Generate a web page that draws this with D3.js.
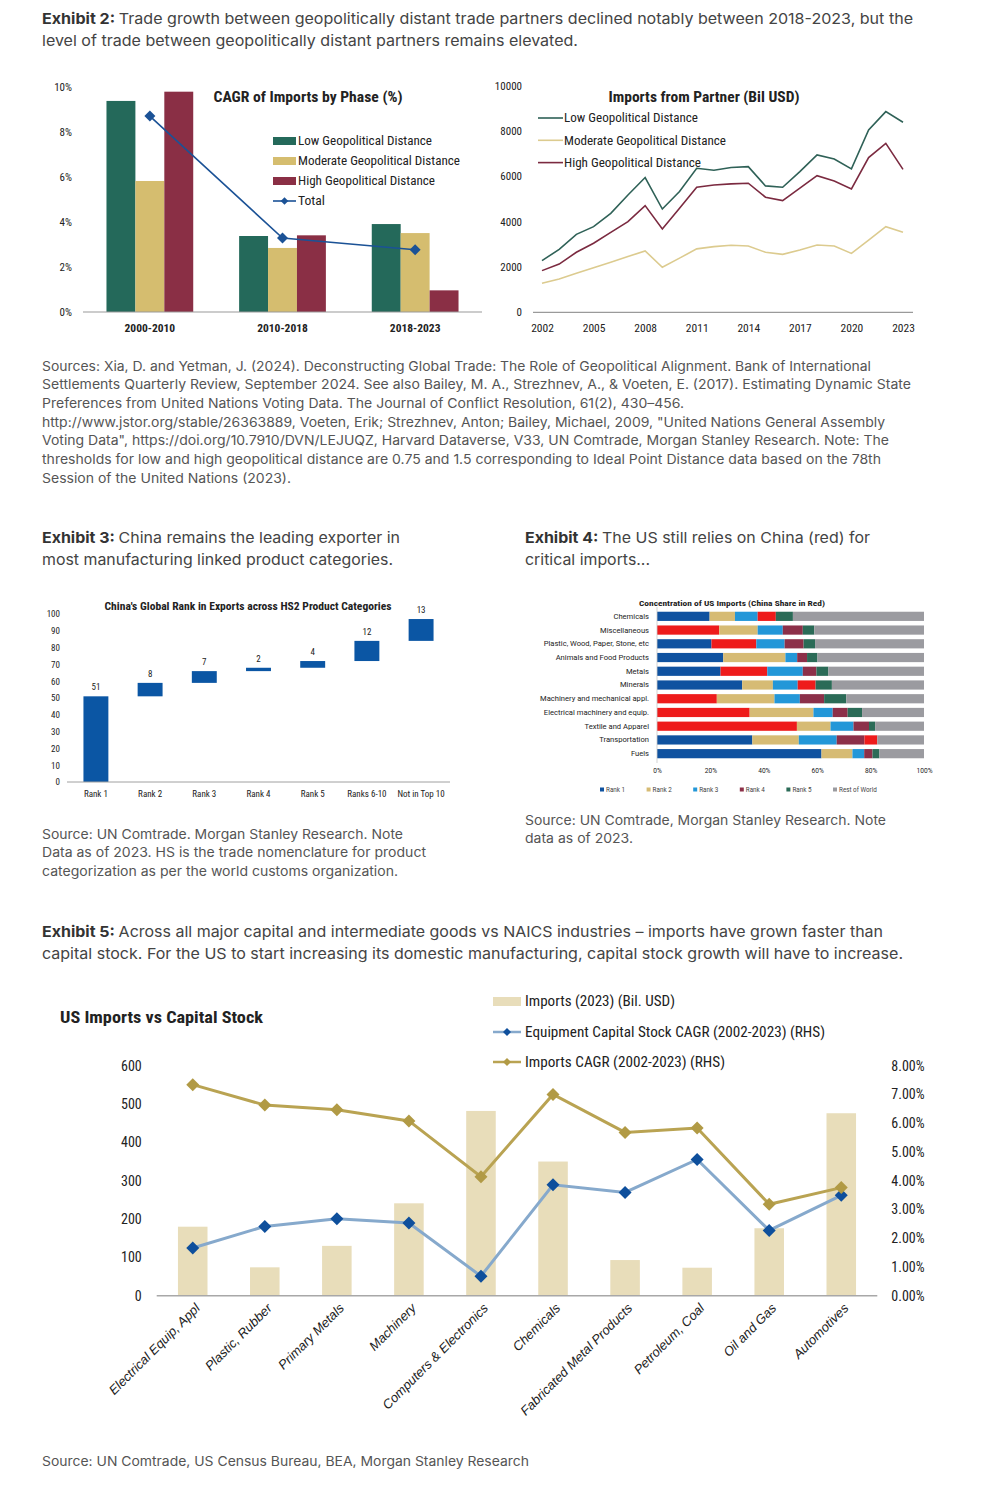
<!DOCTYPE html>
<html>
<head>
<meta charset="utf-8">
<script src="https://cdn.jsdelivr.net/npm/d3@7"></script>
<style>
  body { margin: 0; background: #fff; }
  svg { display: block; }
  .bt { font-family: Inter, "Noto Sans", sans-serif; }
  .ch { font-family: "Roboto Condensed", "Liberation Sans Narrow", Roboto, sans-serif; }
  .rb { font-family: Roboto, "Liberation Sans", sans-serif; }
  .it { font-family: "Liberation Sans", Arial, sans-serif; font-style: italic; }
</style>
</head>
<body>
<div id="page"></div>
<script>
// ---------- data ----------
// Exhibit 2 (left): CAGR of imports by phase (%)
var phases = ["2000-2010", "2010-2018", "2018-2023"];
var cagrLow = [9.36, 3.37, 3.90];
var cagrModerate = [5.81, 2.84, 3.50];
var cagrHigh = [9.77, 3.40, 0.96];
var cagrTotal = [8.69, 3.28, 2.76];

// Exhibit 2 (right): imports from partner (Bil USD)
var years = [2002, 2003, 2004, 2005, 2006, 2007, 2008, 2009, 2010, 2011, 2012,
             2013, 2014, 2015, 2016, 2017, 2018, 2019, 2020, 2021, 2022, 2023];
var yearTicks = [2002, 2005, 2008, 2011, 2014, 2017, 2020, 2023];
var importsLow = [2280, 2780, 3440, 3780, 4370, 5180, 5950, 4560, 5330, 6360, 6270,
                  6390, 6430, 5580, 5520, 6210, 6950, 6770, 6330, 8050, 8860, 8390];
var importsModerate = [1280, 1470, 1720, 1970, 2210, 2460, 2710, 1990, 2390, 2800, 2900,
                       2960, 2930, 2650, 2560, 2750, 2970, 2930, 2600, 3190, 3780, 3530];
var importsHigh = [1840, 2130, 2650, 3050, 3530, 4000, 4710, 3680, 4590, 5520, 5620,
                   5670, 5700, 5080, 4930, 5480, 6030, 5800, 5450, 6830, 7460, 6310];

// Exhibit 3: China's global rank across HS2 categories
var rankCats = ["Rank 1", "Rank 2", "Rank 3", "Rank 4", "Rank 5", "Ranks 6-10", "Not in Top 10"];
var rankCounts = [51, 8, 7, 2, 4, 12, 13];

// Exhibit 4: concentration of US imports (shares %, Rank1..Rank5, Rest of World)
var concCats = ["Chemicals", "Miscellaneous", "Plastic, Wood, Paper, Stone, etc",
                "Animals and Food Products", "Metals", "Minerals",
                "Machinery and mechanical appl.", "Electrical machinery and equip.",
                "Textile and Apparel", "Transportation", "Fuels"];
var concShares = [
  [19.7, 9.5, 8.5, 6.8, 6.4, 49.1],
  [23.3, 14.4, 9.4, 7.5, 4.3, 41.1],
  [20.4, 16.8, 10.6, 7.1, 4.3, 40.8],
  [24.8, 23.3, 4.4, 3.7, 3.9, 39.9],
  [23.8, 17.5, 13.3, 5.1, 4.5, 35.8],
  [31.9, 11.5, 9.3, 6.7, 6.1, 34.5],
  [22.4, 21.6, 9.5, 9.1, 8.3, 29.1],
  [34.7, 23.9, 7.2, 5.6, 5.4, 23.2],
  [52.4, 12.6, 8.6, 5.8, 2.3, 18.3],
  [35.7, 17.4, 14.2, 10.4, 4.8, 17.5],
  [61.6, 11.6, 4.4, 3.1, 2.6, 16.7]
];
// position (0 = Rank 1) of China in each row, -1 when not in top 5
var chinaRank = [3, 0, 1, -1, 1, 3, 0, 0, 0, 4, -1];
var concLegend = ["Rank 1", "Rank 2", "Rank 3", "Rank 4", "Rank 5", "Rest of World"];
var concTicks = [0, 20, 40, 60, 80, 100];

// Exhibit 5: US imports vs capital stock
var industries = ["Electrical Equip, Appl", "Plastic, Rubber", "Primary Metals", "Machinery",
                  "Computers & Electronics", "Chemicals", "Fabricated Metal Products",
                  "Petroleum, Coal", "Oil and Gas", "Automotives"];
var imports2023 = [180, 74, 130, 241, 482, 350, 93, 73, 176, 476];
var equipCagr = [1.66, 2.41, 2.68, 2.53, 0.68, 3.86, 3.59, 4.74, 2.27, 3.49];
var importsCagr = [7.34, 6.63, 6.47, 6.08, 4.14, 7.00, 5.68, 5.83, 3.18, 3.76];

// ---------- page ----------
var W = 1005, H = 1488;
var svg = d3.select("#page").append("svg").attr("width", W).attr("height", H);
svg.append("rect").attr("width", W).attr("height", H).attr("fill", "#fff");

function diamond(r) { return "M0," + (-r) + "L" + r + ",0L0," + r + "L" + (-r) + ",0Z"; }

// plain paragraph lines, optional bold prefix on first line, optional fitted widths
function para(lines, x, y0, lh, size, color, widths, boldPrefix) {
  lines.forEach(function(line, i) {
    var t = svg.append("text").attr("class", "bt")
      .attr("x", x).attr("y", y0 + i * lh)
      .attr("font-size", size).attr("fill", color);
    if (i === 0 && boldPrefix) {
      t.append("tspan").attr("font-weight", 700).attr("fill", "#333").text(boldPrefix);
      t.append("tspan").text(line);
    } else {
      t.text(line);
    }
    if (widths && widths[i]) t.attr("textLength", widths[i]).attr("lengthAdjust", "spacingAndGlyphs");
  });
}

function chText(x, y, str, size, opts) {
  opts = opts || {};
  var t = svg.append("text").attr("class", opts.cls || "ch")
    .attr("x", x).attr("y", y).attr("font-size", size)
    .attr("fill", opts.fill || "#222")
    .attr("font-weight", opts.bold ? 700 : 400)
    .attr("text-anchor", opts.anchor || "start")
    .text(str);
  if (opts.len) t.attr("textLength", opts.len).attr("lengthAdjust", "spacingAndGlyphs");
  return t;
}

function styleAxis(g, size, cls) {
  g.select(".domain").remove();
  g.selectAll("text").attr("class", cls || "ch").attr("font-size", size).attr("fill", "#222");
}

// ---------- text blocks ----------
para(["Trade growth between geopolitically distant trade partners declined notably between 2018-2023, but the",
      "level of trade between geopolitically distant partners remains elevated."],
     42, 24, 22, 15, "#444", [871, 536], "Exhibit 2: ");

para(["Sources: Xia, D. and Yetman, J. (2024). Deconstructing Global Trade: The Role of Geopolitical Alignment. Bank of International",
      "Settlements Quarterly Review, September 2024. See also Bailey, M. A., Strezhnev, A., & Voeten, E. (2017). Estimating Dynamic State",
      "Preferences from United Nations Voting Data. The Journal of Conflict Resolution, 61(2), 430\u2013456.",
      "http://www.jstor.org/stable/26363889, Voeten, Erik; Strezhnev, Anton; Bailey, Michael, 2009, \"United Nations General Assembly",
      "Voting Data\", https://doi.org/10.7910/DVN/LEJUQZ, Harvard Dataverse, V33, UN Comtrade, Morgan Stanley Research. Note: The",
      "thresholds for low and high geopolitical distance are 0.75 and 1.5 corresponding to Ideal Point Distance data based on the 78th",
      "Session of the United Nations (2023)."],
     42, 370.5, 18.7, 13, "#555", [829, 869, 642, 843, 847, 839, 249]);

para(["China remains the leading exporter in", "most manufacturing linked product categories."],
     42, 543, 22, 15, "#444", [358, 351], "Exhibit 3: ");
para(["The US still relies on China (red) for", "critical imports..."],
     525, 543, 22, 15, "#444", [345, 125], "Exhibit 4: ");

para(["Source: UN Comtrade. Morgan Stanley Research. Note",
      "Data as of 2023. HS is the trade nomenclature for product",
      "categorization as per the world customs organization."],
     42, 838.5, 18.7, 13, "#555", [361, 384, 356]);
para(["Source: UN Comtrade, Morgan Stanley Research. Note", "data as of 2023."],
     525, 824.5, 18.7, 13, "#555", [361, 108]);

para(["Across all major capital and intermediate goods vs NAICS industries \u2013 imports have grown faster than",
      "capital stock. For the US to start increasing its domestic manufacturing, capital stock growth will have to increase."],
     42, 937, 22, 15, "#444", [841, 861], "Exhibit 5: ");

para(["Source: UN Comtrade, US Census Bureau, BEA, Morgan Stanley Research"],
     42, 1465.5, 18.7, 13, "#555", [487]);

// ---------- Exhibit 2 left: grouped bars ----------
var c2 = { low: "#24695a", mod: "#d5bd6f", high: "#8a2f45", total: "#1b5296" };
var x2 = d3.scaleBand().domain(phases).range([83, 482]).paddingInner(0.346).paddingOuter(0.177);
var x2s = d3.scaleBand().domain(["low", "mod", "high"]).range([0, x2.bandwidth()]);
var y2 = d3.scaleLinear().domain([0, 10]).range([312, 86.5]);

var g2 = svg.append("g");
var grp = g2.selectAll("g.phase").data(phases).enter().append("g")
  .attr("transform", function(d) { return "translate(" + x2(d) + ",0)"; });
[["low", cagrLow], ["mod", cagrModerate], ["high", cagrHigh]].forEach(function(s) {
  grp.append("rect")
    .attr("x", x2s(s[0])).attr("width", x2s.bandwidth())
    .attr("y", function(d, i) { return y2(s[1][i]); })
    .attr("height", function(d, i) { return y2(0) - y2(s[1][i]); })
    .attr("fill", c2[s[0]]);
});
g2.append("line").attr("x1", 83).attr("x2", 482).attr("y1", y2(0)).attr("y2", y2(0))
  .attr("stroke", "#9a9a9a").attr("stroke-width", 1.2);
var lineTot = d3.line().x(function(d, i) { return x2(phases[i]) + x2.bandwidth() / 2; }).y(function(d) { return y2(d); });
g2.append("path").datum(cagrTotal).attr("d", lineTot).attr("fill", "none").attr("stroke", c2.total).attr("stroke-width", 1.6);
g2.selectAll("path.dt").data(cagrTotal).enter().append("path").attr("class", "dt")
  .attr("d", diamond(5.5)).attr("fill", c2.total)
  .attr("transform", function(d, i) { return "translate(" + (x2(phases[i]) + x2.bandwidth() / 2) + "," + y2(d) + ")"; });

var ax2 = svg.append("g").attr("transform", "translate(83,0)")
  .call(d3.axisLeft(y2).tickValues([0, 2, 4, 6, 8, 10]).tickSize(0).tickPadding(11).tickFormat(function(d) { return d + "%"; }));
styleAxis(ax2, 11);
var bx2 = svg.append("g").attr("transform", "translate(0," + y2(0) + ")")
  .call(d3.axisBottom(x2).tickSize(0).tickPadding(12));
styleAxis(bx2, 11.5);
bx2.selectAll("text").attr("font-weight", 700);

chText(308, 102, "CAGR of Imports by Phase (%)", 14, { bold: true, anchor: "middle", len: 189 });
var leg2 = [["Low Geopolitical Distance", c2.low, 134], ["Moderate Geopolitical Distance", c2.mod, 162],
            ["High Geopolitical Distance", c2.high, 137]];
leg2.forEach(function(l, i) {
  var cy = 141 + i * 20;
  svg.append("rect").attr("x", 273).attr("y", cy - 4).attr("width", 23).attr("height", 8).attr("fill", l[1]);
  chText(298, cy + 4.2, l[0], 12, { len: l[2] });
});
svg.append("line").attr("x1", 273).attr("x2", 296).attr("y1", 201).attr("y2", 201).attr("stroke", c2.total).attr("stroke-width", 1.6);
svg.append("path").attr("d", diamond(3.8)).attr("fill", c2.total).attr("transform", "translate(284.5,201)");
chText(298, 205.2, "Total", 12, { len: 27 });

// ---------- Exhibit 2 right: lines ----------
var c2r = { low: "#2f6157", mod: "#dccb8f", high: "#7b2a40" };
var xr = d3.scalePoint().domain(years).range([542, 903]);
var yr = d3.scaleLinear().domain([0, 10000]).range([312.3, 85.8]);
var lr = d3.line().x(function(d, i) { return xr(years[i]); }).y(function(d) { return yr(d); });
[[importsModerate, c2r.mod], [importsHigh, c2r.high], [importsLow, c2r.low]].forEach(function(s) {
  svg.append("path").datum(s[0]).attr("d", lr).attr("fill", "none").attr("stroke", s[1]).attr("stroke-width", 1.6);
});
svg.append("line").attr("x1", 533).attr("x2", 913).attr("y1", yr(0)).attr("y2", yr(0))
  .attr("stroke", "#9a9a9a").attr("stroke-width", 1.2);
var ayr = svg.append("g").attr("transform", "translate(533,0)")
  .call(d3.axisLeft(yr).tickValues([0, 2000, 4000, 6000, 8000, 10000]).tickSize(0).tickPadding(11).tickFormat(d3.format("d")));
styleAxis(ayr, 11);
var bxr = svg.append("g").attr("transform", "translate(0," + yr(0) + ")")
  .call(d3.axisBottom(xr).tickValues(yearTicks).tickSize(0).tickPadding(12).tickFormat(d3.format("d")));
styleAxis(bxr, 11.5);

chText(704, 102, "Imports from Partner (Bil USD)", 14, { bold: true, anchor: "middle", len: 191 });
[["Low Geopolitical Distance", c2r.low, 134], ["Moderate Geopolitical Distance", c2r.mod, 162],
 ["High Geopolitical Distance", c2r.high, 137]].forEach(function(l, i) {
  var cy = 118 + i * 22.3;
  svg.append("line").attr("x1", 538).attr("x2", 563).attr("y1", cy).attr("y2", cy).attr("stroke", l[1]).attr("stroke-width", 1.6);
  chText(564, cy + 4.2, l[0], 12, { len: l[2] });
});

// ---------- Exhibit 3: waterfall ----------
var x3 = d3.scaleBand().domain(rankCats).range([68, 449]).paddingInner(0.54).paddingOuter(0.285);
var y3 = d3.scaleLinear().domain([0, 100]).range([782, 614]);
var cum = 0;
var steps = rankCounts.map(function(v, i) { var s = { cat: rankCats[i], v: v, from: cum, to: cum + v }; cum += v; return s; });
svg.selectAll("rect.wf").data(steps).enter().append("rect").attr("class", "wf")
  .attr("x", function(d) { return x3(d.cat); }).attr("width", x3.bandwidth())
  .attr("y", function(d) { return y3(d.to); })
  .attr("height", function(d) { return y3(d.from) - y3(d.to); })
  .attr("fill", "#0b56a4");
svg.selectAll("text.wl").data(steps).enter().append("text").attr("class", "ch")
  .attr("x", function(d) { return x3(d.cat) + x3.bandwidth() / 2; })
  .attr("y", function(d) { return y3(d.to) - 6; })
  .attr("text-anchor", "middle").attr("font-size", 9).attr("fill", "#222")
  .text(function(d) { return d.v; });
svg.append("line").attr("x1", 67).attr("x2", 450).attr("y1", y3(0)).attr("y2", y3(0))
  .attr("stroke", "#a0a0a0").attr("stroke-width", 1);
var ay3 = svg.append("g").attr("transform", "translate(67,0)")
  .call(d3.axisLeft(y3).tickValues([0, 10, 20, 30, 40, 50, 60, 70, 80, 90, 100]).tickSize(0).tickPadding(7));
styleAxis(ay3, 9);
var bx3 = svg.append("g").attr("transform", "translate(0," + y3(0) + ")")
  .call(d3.axisBottom(x3).tickSize(0).tickPadding(8.5));
styleAxis(bx3, 9);
chText(248, 609.5, "China's Global Rank in Exports across HS2 Product Categories", 10.5, { bold: true, anchor: "middle", len: 287 });

// ---------- Exhibit 4: 100% stacked bars ----------
var c4 = ["#0f52a0", "#d6bb74", "#2397d8", "#8c3049", "#2b6b57", "#9b9ba0"];
var china = "#ee1b1b";
var x4 = d3.scaleLinear().domain([0, 100]).range([657, 924]);
var y4 = d3.scaleBand().domain(concCats).range([607.2, 762.8]).padding(0.33);
concCats.forEach(function(cat, r) {
  var acc = 0;
  var segs = concShares[r].map(function(v, k) { var s = { k: k, x0: acc, x1: acc + v }; acc += v; return s; });
  svg.selectAll(null).data(segs).enter().append("rect")
    .attr("x", function(d) { return x4(d.x0); })
    .attr("width", function(d) { return x4(d.x1) - x4(d.x0); })
    .attr("y", y4(cat)).attr("height", y4.bandwidth())
    .attr("fill", function(d) { return d.k === chinaRank[r] ? china : c4[d.k]; });
});
svg.append("line").attr("x1", x4(0)).attr("x2", x4(0)).attr("y1", 607).attr("y2", 763)
  .attr("stroke", "#c8c8c8").attr("stroke-width", 0.8);
var ay4 = svg.append("g").attr("transform", "translate(" + x4(0) + ",0)")
  .call(d3.axisLeft(y4).tickSize(0).tickPadding(8));
styleAxis(ay4, 7.6, "rb");
var bx4 = svg.append("g").attr("transform", "translate(0,767)")
  .call(d3.axisBottom(x4).tickValues(concTicks).tickSize(0).tickPadding(1.5).tickFormat(function(d) { return d + "%"; }));
styleAxis(bx4, 6.6, "rb");
chText(732, 605.5, "Concentration of US Imports (China Share in Red)", 7.5, { bold: true, anchor: "middle", len: 186 });
var legX4 = d3.scalePoint().domain(concLegend).range([600, 833]);
concLegend.forEach(function(l, i) {
  svg.append("rect").attr("x", legX4(l)).attr("y", 787.5).attr("width", 4).attr("height", 4).attr("fill", c4[i]);
  chText(legX4(l) + 6, 792.3, l, 6.3, { fill: "#444", cls: "rb" });
});

// ---------- Exhibit 5: bars + two lines on RHS ----------
var gold = "#b9a352", goldMk = "#b19a45", blueLn = "#86a9cc", blueMk = "#0e4f9c";
var x5 = d3.scaleBand().domain(industries).range([156.7, 877.3]).paddingInner(0.59).paddingOuter(0.295);
var yL = d3.scaleLinear().domain([0, 600]).range([1295.7, 1065.7]);
var yR = d3.scaleLinear().domain([0, 8]).range([1295.7, 1065.7]);
var cx5 = function(i) { return x5(industries[i]) + x5.bandwidth() / 2; };

svg.selectAll("rect.imp").data(imports2023).enter().append("rect").attr("class", "imp")
  .attr("x", function(d, i) { return x5(industries[i]); }).attr("width", x5.bandwidth())
  .attr("y", function(d) { return yL(d); })
  .attr("height", function(d) { return yL(0) - yL(d); })
  .attr("fill", "#e8ddba");
svg.append("line").attr("x1", 156.7).attr("x2", 877.3).attr("y1", yL(0)).attr("y2", yL(0))
  .attr("stroke", "#a8a8a8").attr("stroke-width", 1.5);

var l5 = d3.line().x(function(d, i) { return cx5(i); }).y(function(d) { return yR(d); });
svg.append("path").datum(equipCagr).attr("d", l5).attr("fill", "none").attr("stroke", blueLn).attr("stroke-width", 3);
svg.append("path").datum(importsCagr).attr("d", l5).attr("fill", "none").attr("stroke", gold).attr("stroke-width", 3);
svg.selectAll("path.mb").data(equipCagr).enter().append("path").attr("class", "mb")
  .attr("d", diamond(6.5)).attr("fill", blueMk)
  .attr("transform", function(d, i) { return "translate(" + cx5(i) + "," + yR(d) + ")"; });
svg.selectAll("path.mg").data(importsCagr).enter().append("path").attr("class", "mg")
  .attr("d", diamond(6.5)).attr("fill", goldMk)
  .attr("transform", function(d, i) { return "translate(" + cx5(i) + "," + yR(d) + ")"; });

var ay5 = svg.append("g").attr("transform", "translate(156.7,0)")
  .call(d3.axisLeft(yL).tickValues([0, 100, 200, 300, 400, 500, 600]).tickSize(0).tickPadding(15));
styleAxis(ay5, 14);
var ar5 = svg.append("g").attr("transform", "translate(877.3,0)")
  .call(d3.axisRight(yR).tickValues([0, 1, 2, 3, 4, 5, 6, 7, 8]).tickSize(0).tickPadding(14)
    .tickFormat(function(d) { return d3.format(".2f")(d) + "%"; }));
styleAxis(ar5, 14);

svg.selectAll("text.xl5").data(industries).enter().append("text").attr("class", "it")
  .attr("font-size", 13).attr("fill", "#222").attr("text-anchor", "end")
  .attr("transform", function(d, i) { return "translate(" + (cx5(i) + 8) + ",1309) rotate(-45)"; })
  .text(function(d) { return d; });

chText(60, 1023, "US Imports vs Capital Stock", 17, { bold: true, len: 203 });
svg.append("rect").attr("x", 493).attr("y", 997).attr("width", 28).attr("height", 9).attr("fill", "#e8ddba");
chText(525, 1006, "Imports (2023) (Bil. USD)", 14, { len: 150 });
svg.append("line").attr("x1", 493).attr("x2", 521).attr("y1", 1032).attr("y2", 1032).attr("stroke", blueLn).attr("stroke-width", 2.5);
svg.append("path").attr("d", diamond(4)).attr("fill", blueMk).attr("transform", "translate(507,1032)");
chText(525, 1037, "Equipment Capital Stock CAGR (2002-2023) (RHS)", 14, { len: 300 });
svg.append("line").attr("x1", 493).attr("x2", 521).attr("y1", 1062).attr("y2", 1062).attr("stroke", gold).attr("stroke-width", 2.5);
svg.append("path").attr("d", diamond(4)).attr("fill", goldMk).attr("transform", "translate(507,1062)");
chText(525, 1067, "Imports CAGR (2002-2023) (RHS)", 14, { len: 200 });
</script>
</body>
</html>
